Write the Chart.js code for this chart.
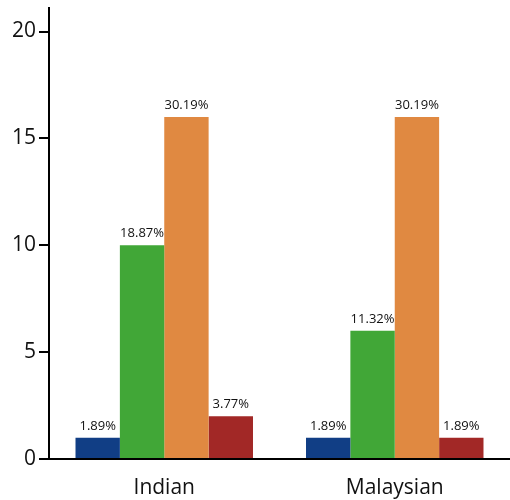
<!DOCTYPE html>
<html>
<head>
<meta charset="utf-8">
<script src="https://cdn.jsdelivr.net/npm/chart.js@4"></script>
<style>
  html, body { margin: 0; padding: 0; background: #fff; }
  #wrap { width: 510px; height: 500px; }
</style>
</head>
<body>
<div id="wrap"><canvas id="barChart" width="510" height="500"></canvas></div>
<script>
const categories = ['Indian', 'Malaysian'];
const seriesColors = ['#113e85', '#41a737', '#e08941', '#a22826'];
const series1 = [1, 1];
const series2 = [10, 6];
const series3 = [16, 16];
const series4 = [2, 1];
const labels1 = ['1.89%', '1.89%'];
const labels2 = ['18.87%', '11.32%'];
const labels3 = ['30.19%', '30.19%'];
const labels4 = ['3.77%', '1.89%'];
const yTicks = [0, 5, 10, 15, 20];

const allValues = [series1, series2, series3, series4];
const allLabels = [labels1, labels2, labels3, labels4];

const FONT = '"Open Sans", Lato, sans-serif';

// labels above every bar
const barLabels = {
  id: 'barLabels',
  afterDatasetsDraw(chart) {
    const ctx = chart.ctx;
    ctx.save();
    ctx.font = '13px ' + FONT;
    ctx.fillStyle = '#111';
    ctx.textAlign = 'center';
    ctx.textBaseline = 'bottom';
    chart.data.datasets.forEach((ds, i) => {
      chart.getDatasetMeta(i).data.forEach((el, j) => {
        ctx.fillText(allLabels[i][j], el.x, el.y - 5);
      });
    });
    ctx.restore();
  }
};

new Chart(document.getElementById('barChart'), {
  type: 'bar',
  data: {
    labels: categories,
    datasets: allValues.map((vals, i) => ({
      label: 'Series ' + (i + 1),
      data: vals,
      backgroundColor: seriesColors[i],
      borderWidth: 0,
      barPercentage: 1.0,
      categoryPercentage: 0.77
    }))
  },
  options: {
    responsive: false,
    animation: false,
    layout: { padding: { top: 8, left: 0, right: 0, bottom: 0 } },
    plugins: {
      legend: { display: false },
      tooltip: { enabled: false }
    },
    scales: {
      x: {
        grid: { display: false },
        border: { display: true, color: '#000', width: 2 },
        ticks: { color: '#111', font: { family: FONT, size: 21 }, padding: 8 },
        afterFit(scale) { scale.height = 41; scale.paddingLeft = 0; scale.paddingRight = 0; }
      },
      y: {
        min: 0,
        max: 21.1,
        border: { display: true, color: '#000', width: 2 },
        grid: { drawOnChartArea: false, drawTicks: true, tickLength: 10, color: '#000', lineWidth: 2 },
        ticks: { color: '#111', font: { family: FONT, size: 21 }, padding: 3 },
        afterBuildTicks(scale) {
          scale.ticks = yTicks.map(v => ({ value: v }));
        },
        afterFit(scale) { scale.width = 49; scale.paddingTop = 0; scale.paddingBottom = 0; }
      }
    }
  },
  plugins: [barLabels]
});
</script>
</body>
</html>
